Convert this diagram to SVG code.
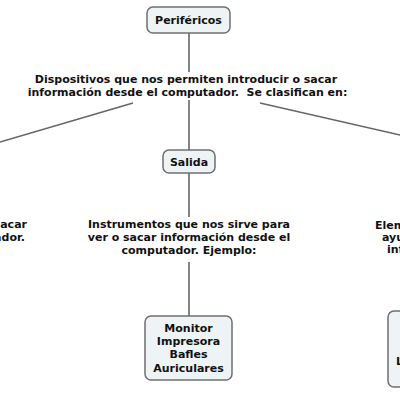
<svg xmlns="http://www.w3.org/2000/svg" width="400" height="400" viewBox="0 0 400 400">
<style>
text{font-family:"DejaVu Sans","Verdana",sans-serif;font-weight:bold;font-size:11px;fill:#111;}
.m{text-anchor:middle;}
.box{fill:#eef3f6;stroke:#6f6f6f;stroke-width:1.5;}
.ln{stroke:#666;stroke-width:1.6;fill:none;}
</style>
<rect width="400" height="400" fill="#fff"/>
<g id="connectors">
<line class="ln" x1="189" y1="33" x2="189" y2="72"/>
<line class="ln" x1="133" y1="103" x2="0" y2="142"/>
<line class="ln" x1="260" y1="103" x2="400" y2="135"/>
<line class="ln" x1="189" y1="100" x2="189" y2="150"/>
<line class="ln" x1="189" y1="173" x2="189" y2="217"/>
<line class="ln" x1="189" y1="262" x2="189" y2="316"/>
</g>
<g id="perifericos">
<rect class="box" x="147" y="7" width="83" height="26" rx="6"/>
<text class="m" x="188.5" y="24">Periféricos</text>
</g>
<g id="definicion">
<text class="m" x="186" y="83">Dispositivos que nos permiten introducir o sacar</text>
<text class="m" x="187.5" y="96" xml:space="preserve" style="white-space:pre">información desde el computador.  Se clasifican en:</text>
</g>
<g id="salida">
<rect class="box" x="163" y="150" width="52" height="23" rx="6"/>
<text class="m" x="189" y="166">Salida</text>
</g>
<g id="salida-desc">
<text class="m" x="189" y="228">Instrumentos que nos sirve para</text>
<text class="m" x="189" y="241">ver o sacar información desde el</text>
<text class="m" x="189" y="254">computador. Ejemplo:</text>
</g>
<g id="salida-ej">
<rect class="box" x="145" y="316" width="87" height="64" rx="6"/>
<text class="m" x="188.5" y="332">Monitor</text>
<text class="m" x="188.5" y="345">Impresora</text>
<text class="m" x="188.5" y="358">Bafles</text>
<text class="m" x="188.5" y="372">Auriculares</text>
</g>
<g id="entrada-desc">
<text x="27" y="228" text-anchor="end">o sacar</text>
<text x="25" y="241" text-anchor="end">computador.</text>
</g>
<g id="otro-desc">
<text x="375" y="229">Elementos que</text>
<text x="382" y="241">ayudan a</text>
<text x="387" y="253">información</text>
</g>
<g id="otro-ej">
<rect class="box" x="388" y="311" width="100" height="76" rx="6"/>
<text x="396" y="365">Lápiz</text>
</g>
</svg>
